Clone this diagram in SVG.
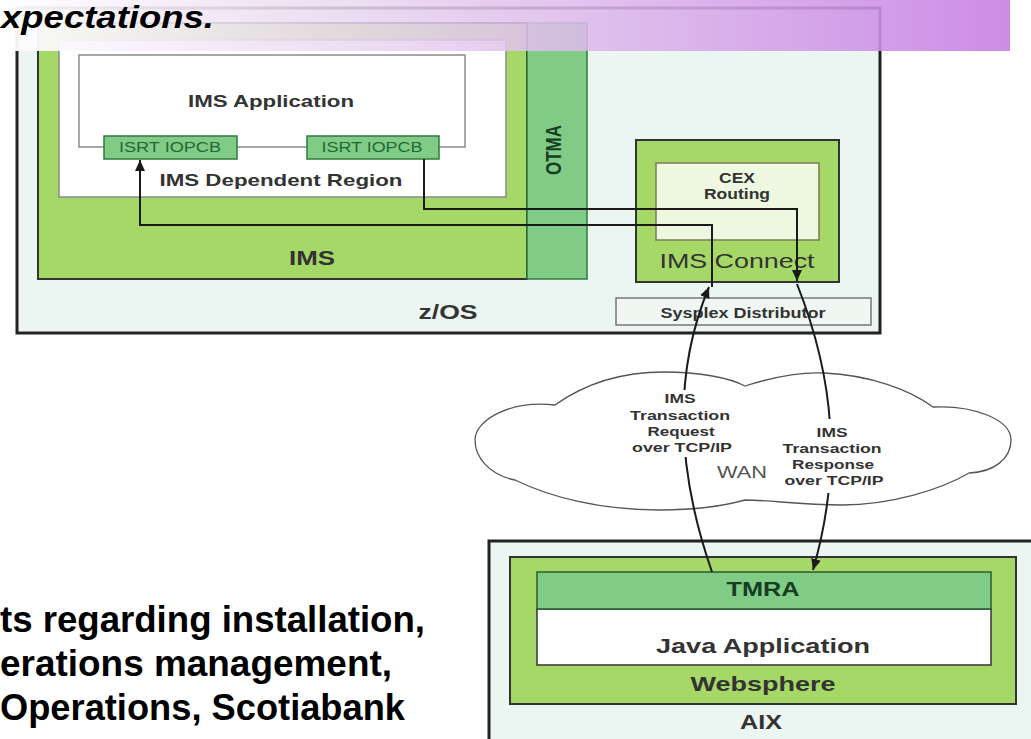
<svg xmlns="http://www.w3.org/2000/svg" width="1031" height="739" viewBox="0 0 1031 739">
<style>
.t{font-family:"Liberation Sans",Arial,sans-serif;fill:#333;}
.b{font-weight:bold;}
.g{fill:#1f6a34;}
.dg{fill:#173d22;}
.frame{fill:#ebf5f1;stroke:#222;stroke-width:3;}
.lime{fill:#a5d866;stroke:#333;stroke-width:2;}
.dkg{fill:#80cc86;stroke:#2e7a3c;stroke-width:1.5;}
.wht{fill:#fff;stroke:#8a8a8a;stroke-width:1.5;}
.conn{fill:none;stroke:#1a1a1a;stroke-width:2;}
.body{font-family:"Liberation Sans",Arial,sans-serif;font-weight:bold;font-size:36.5px;fill:#000;}
</style>
<defs>
<marker id="arr" markerUnits="userSpaceOnUse" markerWidth="12" markerHeight="10" refX="11" refY="5" orient="auto">
<path d="M0,0 L11,5 L0,10 z" fill="#1a1a1a"/>
</marker>
<linearGradient id="ban" x1="0" y1="0" x2="1" y2="0">
<stop offset="0" stop-color="#ffffff" stop-opacity="0.95"/>
<stop offset="0.35" stop-color="#ead8f0" stop-opacity="0.85"/>
<stop offset="1" stop-color="#c780e4" stop-opacity="0.9"/>
</linearGradient>
</defs>

<g id="zos">
<rect class="frame" x="17" y="8" width="863" height="325"/>
<text class="t b" x="448" y="319" font-size="21" text-anchor="middle" textLength="59" lengthAdjust="spacingAndGlyphs">z/OS</text>
</g>
<g id="ims">
<rect class="lime" x="38" y="23" width="489" height="256"/>
<text class="t b" x="312" y="265" font-size="20" text-anchor="middle" textLength="46" lengthAdjust="spacingAndGlyphs">IMS</text>
</g>
<g id="otma">
<rect class="dkg" x="527" y="23" width="60" height="256"/>
<text class="t b dg" font-size="17" text-anchor="middle" transform="translate(561,150) scale(1.3,1) rotate(-90)">OTMA</text>
</g>
<g id="dependent-region">
<rect class="wht" x="59" y="40" width="447" height="157"/>
<text class="t b" x="281" y="186" font-size="17" text-anchor="middle" textLength="243" lengthAdjust="spacingAndGlyphs">IMS Dependent Region</text>
</g>
<g id="ims-application">
<path d="M104,147 L79,147 L79,55 L465,55 L465,147 L439,147 M237,147 L307,147" fill="#fff" stroke="#8a8a8a" stroke-width="1.5"/>
<text class="t b" x="271" y="107" font-size="17" text-anchor="middle" textLength="166" lengthAdjust="spacingAndGlyphs">IMS Application</text>
</g>
<g id="iopcb1">
<rect class="dkg" x="104" y="136" width="133" height="23"/>
<text class="t g" x="170" y="152" font-size="14" text-anchor="middle" textLength="102" lengthAdjust="spacingAndGlyphs">ISRT IOPCB</text>
</g>
<g id="iopcb2">
<rect class="dkg" x="307" y="136" width="132" height="23"/>
<text class="t g" x="372" y="152" font-size="14" text-anchor="middle" textLength="101" lengthAdjust="spacingAndGlyphs">ISRT IOPCB</text>
</g>
<g id="ims-connect">
<rect class="lime" x="636" y="140" width="203" height="142" stroke-width="2.5"/>
<text class="t" x="737" y="268" font-size="21" text-anchor="middle" textLength="155" lengthAdjust="spacingAndGlyphs">IMS Connect</text>
</g>
<g id="cex-routing">
<rect x="656" y="163" width="163" height="77" fill="#eef7df" stroke="#7b7b55" stroke-width="1.5"/>
<text class="t b" x="737" y="183" font-size="14" text-anchor="middle" textLength="36" lengthAdjust="spacingAndGlyphs">CEX</text>
<text class="t b" x="737" y="199" font-size="14" text-anchor="middle" textLength="66" lengthAdjust="spacingAndGlyphs">Routing</text>
</g>
<g id="sysplex-distributor">
<rect x="616" y="298" width="255" height="27" fill="#f0f7f3" stroke="#777" stroke-width="1.5"/>
<text class="t b" x="743" y="318" font-size="14" text-anchor="middle" textLength="165" lengthAdjust="spacingAndGlyphs">Sysplex Distributor</text>
</g>

<g id="aix">
<rect class="frame" x="489" y="541" width="560" height="220" stroke-width="2.5"/>
<text class="t b" x="761" y="729" font-size="20" text-anchor="middle" textLength="42" lengthAdjust="spacingAndGlyphs">AIX</text>
</g>
<g id="websphere">
<rect class="lime" x="510" y="557" width="506" height="147"/>
<text class="t b" x="763" y="691" font-size="21" text-anchor="middle" textLength="145" lengthAdjust="spacingAndGlyphs">Websphere</text>
</g>
<g id="java-application">
<rect x="537" y="609" width="454" height="56" fill="#fff" stroke="#333" stroke-width="1.5"/>
<text class="t b" x="763" y="653" font-size="21" text-anchor="middle" textLength="214" lengthAdjust="spacingAndGlyphs">Java Application</text>
</g>
<g id="tmra">
<rect x="537" y="572" width="454" height="37" fill="#80cc86" stroke="#2a5a30" stroke-width="1.5"/>
<text class="t b dg" x="763" y="596" font-size="20" text-anchor="middle" textLength="73" lengthAdjust="spacingAndGlyphs">TMRA</text>
</g>

<g id="wan">
<path d="M555,405 C590,380 630,372 664,372 C700,372 730,378 745,386 C770,378 800,372 824,373 C870,375 910,390 933,407 C975,405 1011,420 1011,440 C1011,458 995,472 969,473 C940,490 890,505 842,505 C800,505 770,500 745,500 C720,507 690,510 660,510 C600,510 550,497 515,480 C490,475 475,458 475,440 C475,420 510,400 555,405 Z" fill="#fff" stroke="#555" stroke-width="1.3"/>
<text class="t" x="742" y="478" font-size="16" text-anchor="middle" textLength="50" lengthAdjust="spacingAndGlyphs" style="fill:#555">WAN</text>
</g>

<g id="connectors">
<path class="conn" d="M712,287 L712,225 L140,225 L140,160" marker-end="url(#arr)"/>
<path class="conn" d="M712,572 C680,480 670,380 709,287" marker-end="url(#arr)"/>
<path class="conn" d="M424,159 L424,209 L797,209 L797,281" marker-end="url(#arr)"/>
<path class="conn" d="M797,284 C835,380 842,470 813,570" marker-end="url(#arr)"/>
<rect x="631" y="390" width="103" height="67" fill="#fff"/>
<text class="t b" font-size="13.5" text-anchor="middle">
<tspan x="682" y="403" textLength="31" lengthAdjust="spacingAndGlyphs">IMS</tspan>
<tspan x="682" y="420" textLength="100" lengthAdjust="spacingAndGlyphs">Transaction</tspan>
<tspan x="683" y="436" textLength="67" lengthAdjust="spacingAndGlyphs">Request</tspan>
<tspan x="682" y="452" textLength="100" lengthAdjust="spacingAndGlyphs">over TCP/IP</tspan>
</text>
<rect x="783" y="419" width="103" height="74" fill="#fff"/>
<text class="t b" font-size="13.5" text-anchor="middle">
<tspan x="834" y="437" textLength="31" lengthAdjust="spacingAndGlyphs">IMS</tspan>
<tspan x="834" y="453" textLength="99" lengthAdjust="spacingAndGlyphs">Transaction</tspan>
<tspan x="835" y="469" textLength="82" lengthAdjust="spacingAndGlyphs">Response</tspan>
<tspan x="834" y="485" textLength="99" lengthAdjust="spacingAndGlyphs">over TCP/IP</tspan>
</text>
</g>

<g id="banner">
<rect x="0" y="0" width="1010" height="51" fill="url(#ban)"/>
<text class="body" x="1" y="28" font-style="italic" style="font-size:32px" textLength="213" lengthAdjust="spacingAndGlyphs">xpectations.</text>
</g>

<g id="body-text">
<text class="body" x="0" y="632" textLength="425" lengthAdjust="spacingAndGlyphs">ts regarding installation,</text>
<text class="body" x="0" y="676" textLength="392" lengthAdjust="spacingAndGlyphs">erations management,</text>
<text class="body" x="0" y="720" textLength="405" lengthAdjust="spacingAndGlyphs">Operations, Scotiabank</text>
</g>
</svg>
